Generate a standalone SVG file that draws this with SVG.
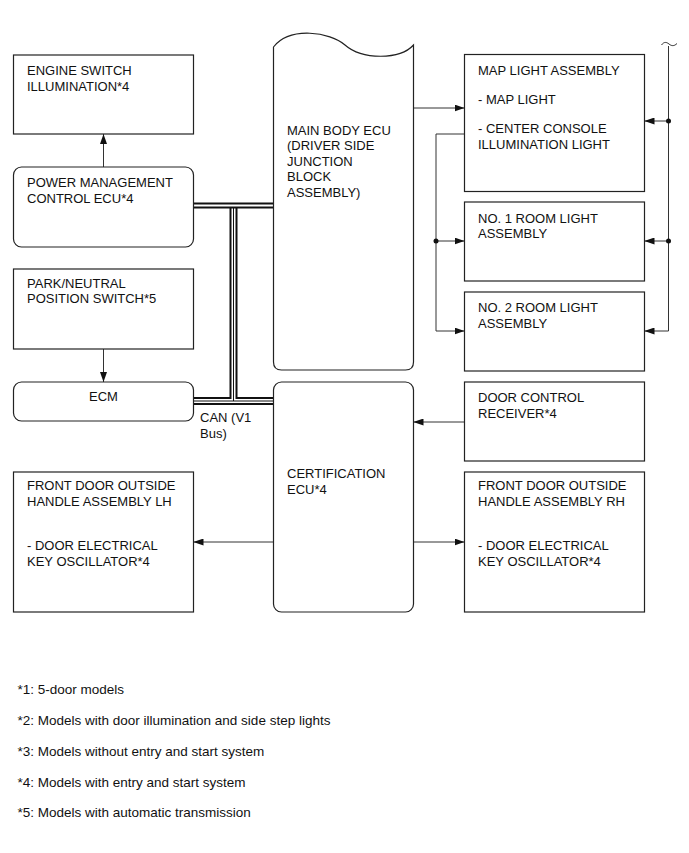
<svg xmlns="http://www.w3.org/2000/svg" width="689" height="853" viewBox="0 0 689 853">
<style>
.box{fill:#fff;stroke:#222;stroke-width:1.2}
.t{font-family:"Liberation Sans",Arial,sans-serif;font-size:13px;fill:#111}
.fn{font-family:"Liberation Sans",Arial,sans-serif;font-size:13.5px;fill:#111}
.ln{fill:none;stroke:#333;stroke-width:1}
.dot{fill:#111}
</style>
<defs>
<marker id="ah" markerUnits="userSpaceOnUse" markerWidth="10" markerHeight="7" refX="10" refY="3.5" orient="auto">
<path d="M0,0 L10,3.5 L0,7 Z" fill="#111"/>
</marker>
</defs>
<rect width="689" height="853" fill="#fff"/>

<g id="connectors">
<!-- CAN bus -->
<path d="M233.5,208 V401" fill="none" stroke="#111" stroke-width="8"/>
<path d="M193,401 H273.5" fill="none" stroke="#111" stroke-width="8"/>
<path d="M233.5,208 V401" fill="none" stroke="#fff" stroke-width="4"/>
<path d="M193,401 H273.5" fill="none" stroke="#fff" stroke-width="4"/>
<path d="M233.5,208 V401 M193,401 H273.5" fill="none" stroke="#111" stroke-width="1"/>
<path d="M193,205.5 H273.5" fill="none" stroke="#111" stroke-width="6"/>
<path d="M193,205.5 H273.5" fill="none" stroke="#fff" stroke-width="2"/>

<path class="ln" d="M103.5,167 V134" marker-end="url(#ah)"/>
<path class="ln" d="M103.5,349 V382" marker-end="url(#ah)"/>
<path class="ln" d="M413.5,108 H464.5" marker-end="url(#ah)"/>
<path class="ln" d="M464.5,134 H436 V331 H464.5" marker-end="url(#ah)"/>
<path class="ln" d="M436,241 H464.5" marker-end="url(#ah)"/>
<circle class="dot" cx="436" cy="241" r="2.5"/>
<path class="ln" d="M661.5,45 C664,41.5 666.5,42 669,44 C671.5,46 674,46.5 677,43.5"/>
<path class="ln" d="M668.5,46 V331 H644.5" marker-end="url(#ah)"/>
<path class="ln" d="M668.5,121 H644.5" marker-end="url(#ah)"/>
<path class="ln" d="M668.5,241 H644.5" marker-end="url(#ah)"/>
<circle class="dot" cx="668.5" cy="121" r="2.5"/>
<circle class="dot" cx="668.5" cy="241" r="2.5"/>
<path class="ln" d="M464.5,422 H413.5" marker-end="url(#ah)"/>
<path class="ln" d="M273.5,542 H193.5" marker-end="url(#ah)"/>
<path class="ln" d="M413.5,542 H464.5" marker-end="url(#ah)"/>
</g>

<g id="engine-switch">
<rect class="box" x="13.5" y="55" width="180" height="79"/>
<text class="t" x="27" y="75">ENGINE SWITCH</text>
<text class="t" x="27" y="90.5">ILLUMINATION*4</text>
</g>
<g id="pm-ecu">
<rect class="box" x="13.5" y="167" width="180" height="80" rx="8"/>
<text class="t" x="27" y="187">POWER MANAGEMENT</text>
<text class="t" x="27" y="202.5">CONTROL ECU*4</text>
</g>
<g id="park-neutral">
<rect class="box" x="13.5" y="269" width="180" height="80"/>
<text class="t" x="27" y="287.5">PARK/NEUTRAL</text>
<text class="t" x="27" y="303">POSITION SWITCH*5</text>
</g>
<g id="ecm">
<rect class="box" x="13.5" y="382" width="180" height="39" rx="8"/>
<text class="t" x="103.5" y="401" text-anchor="middle">ECM</text>
</g>
<g id="can-label">
<text class="t" x="200" y="421.5">CAN (V1</text>
<text class="t" x="200" y="437.5">Bus)</text>
</g>
<g id="front-door-lh">
<rect class="box" x="13.5" y="472" width="180" height="140"/>
<text class="t" x="27" y="490">FRONT DOOR OUTSIDE</text>
<text class="t" x="27" y="505.5">HANDLE ASSEMBLY LH</text>
<text class="t" x="27" y="550">- DOOR ELECTRICAL</text>
<text class="t" x="27" y="565.5">KEY OSCILLATOR*4</text>
</g>
<g id="main-body-ecu">
<path class="box" d="M273.5,47 C290,26 330,32 345,45 C362,60 400,60 413.5,45 V362 Q413.5,370 405.5,370 H281.5 Q273.5,370 273.5,362 Z"/>
<text class="t" x="287" y="134.5">MAIN BODY ECU</text>
<text class="t" x="287" y="150">(DRIVER SIDE</text>
<text class="t" x="287" y="165.5">JUNCTION</text>
<text class="t" x="287" y="181">BLOCK</text>
<text class="t" x="287" y="196.5">ASSEMBLY)</text>
</g>
<g id="certification-ecu">
<rect class="box" x="273.5" y="382" width="140" height="230" rx="8"/>
<text class="t" x="287" y="478">CERTIFICATION</text>
<text class="t" x="287" y="493.5">ECU*4</text>
</g>
<g id="map-light">
<rect class="box" x="464.5" y="54.5" width="180" height="137"/>
<text class="t" x="478" y="75">MAP LIGHT ASSEMBLY</text>
<text class="t" x="478" y="104">- MAP LIGHT</text>
<text class="t" x="478" y="133">- CENTER CONSOLE</text>
<text class="t" x="478" y="148.5">ILLUMINATION LIGHT</text>
</g>
<g id="room-light-1">
<rect class="box" x="464.5" y="202" width="180" height="79"/>
<text class="t" x="478" y="222.5">NO. 1 ROOM LIGHT</text>
<text class="t" x="478" y="238">ASSEMBLY</text>
</g>
<g id="room-light-2">
<rect class="box" x="464.5" y="292" width="180" height="79"/>
<text class="t" x="478" y="312">NO. 2 ROOM LIGHT</text>
<text class="t" x="478" y="327.5">ASSEMBLY</text>
</g>
<g id="door-control-receiver">
<rect class="box" x="464.5" y="382" width="180" height="79"/>
<text class="t" x="478" y="402">DOOR CONTROL</text>
<text class="t" x="478" y="417.5">RECEIVER*4</text>
</g>
<g id="front-door-rh">
<rect class="box" x="464.5" y="472" width="180" height="140"/>
<text class="t" x="478" y="490">FRONT DOOR OUTSIDE</text>
<text class="t" x="478" y="505.5">HANDLE ASSEMBLY RH</text>
<text class="t" x="478" y="550">- DOOR ELECTRICAL</text>
<text class="t" x="478" y="565.5">KEY OSCILLATOR*4</text>
</g>
<g id="footnotes">
<text class="fn" x="17.5" y="694">*1: 5-door models</text>
<text class="fn" x="17.5" y="725">*2: Models with door illumination and side step lights</text>
<text class="fn" x="17.5" y="756">*3: Models without entry and start system</text>
<text class="fn" x="17.5" y="787">*4: Models with entry and start system</text>
<text class="fn" x="17.5" y="817">*5: Models with automatic transmission</text>
</g>
</svg>
